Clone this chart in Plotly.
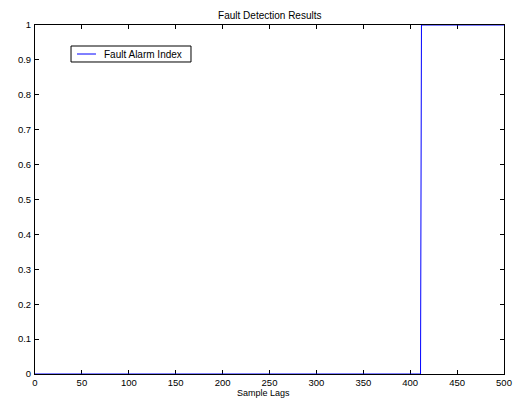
import plotly.graph_objects as go

# Alarm index step: off until the fault is detected, then on to the end
lags = [0, 411, 412, 500]
alarm = [0, 0, 1, 1]
series_name = "Fault Alarm Index"
series_color = "#0000ff"

x_ticks = list(range(0, 501, 50))
y_ticks = [0, 0.1, 0.2, 0.3, 0.4, 0.5, 0.6, 0.7, 0.8, 0.9, 1]
y_tick_text = ["0", "0.1", "0.2", "0.3", "0.4", "0.5", "0.6", "0.7", "0.8", "0.9", "1"]

FONT = "Liberation Sans, Arial, Helvetica, sans-serif"

fig = go.Figure()
fig.add_trace(go.Scatter(
    x=lags, y=alarm, mode="lines", name=series_name,
    line=dict(color=series_color, width=1), showlegend=False,
))

axis_common = dict(
    showline=True, linecolor="black", linewidth=1, mirror="ticks",
    ticks="inside", ticklen=4, tickwidth=1, tickcolor="black",
    showgrid=False, zeroline=False, automargin=False,
    tickfont=dict(family=FONT, size=9.5, color="black"),
    layer="below traces",
)

# Compact boxed legend in the upper-left corner of the axes
leg_x0, leg_x1, leg_y0, leg_y1 = 0.0768, 0.3326, 0.894, 0.9398
leg_mid = (leg_y0 + leg_y1) / 2
shapes = [
    dict(type="rect", xref="paper", yref="paper",
         x0=leg_x0, x1=leg_x1, y0=leg_y0, y1=leg_y1,
         line=dict(color="black", width=1), fillcolor="white", layer="above"),
    dict(type="line", xref="paper", yref="paper",
         x0=0.0896, x1=0.130, y0=leg_mid, y1=leg_mid,
         line=dict(color=series_color, width=1), layer="above"),
]
annotations = [
    dict(text=series_name, xref="paper", yref="paper", x=0.1429, y=leg_mid,
         xanchor="left", yanchor="middle", showarrow=False,
         font=dict(family=FONT, size=10, color="black")),
    # x-axis label, sitting just under the tick labels
    dict(text="Sample Lags", xref="paper", yref="paper", x=0.487, y=-0.0545,
         xanchor="center", yanchor="middle", showarrow=False,
         font=dict(family=FONT, size=9, color="black")),
]

fig.update_layout(
    width=514, height=400,
    margin=dict(l=35, r=10, t=25, b=26),
    paper_bgcolor="white", plot_bgcolor="white",
    font=dict(family=FONT, size=10, color="black"),
    title=dict(text="Fault Detection Results", x=0.5249, xanchor="center",
               y=1 - 15 / 400, yanchor="middle",
               font=dict(family=FONT, size=10, color="black")),
    showlegend=False,
    shapes=shapes,
    annotations=annotations,
)
fig.update_xaxes(range=[0, 500], tickvals=x_ticks, ticklabelstandoff=0,
                 **axis_common)
fig.update_yaxes(range=[0, 1], tickvals=y_ticks, ticktext=y_tick_text,
                 ticklabelstandoff=1, **axis_common)

fig.write_html("out.html")
